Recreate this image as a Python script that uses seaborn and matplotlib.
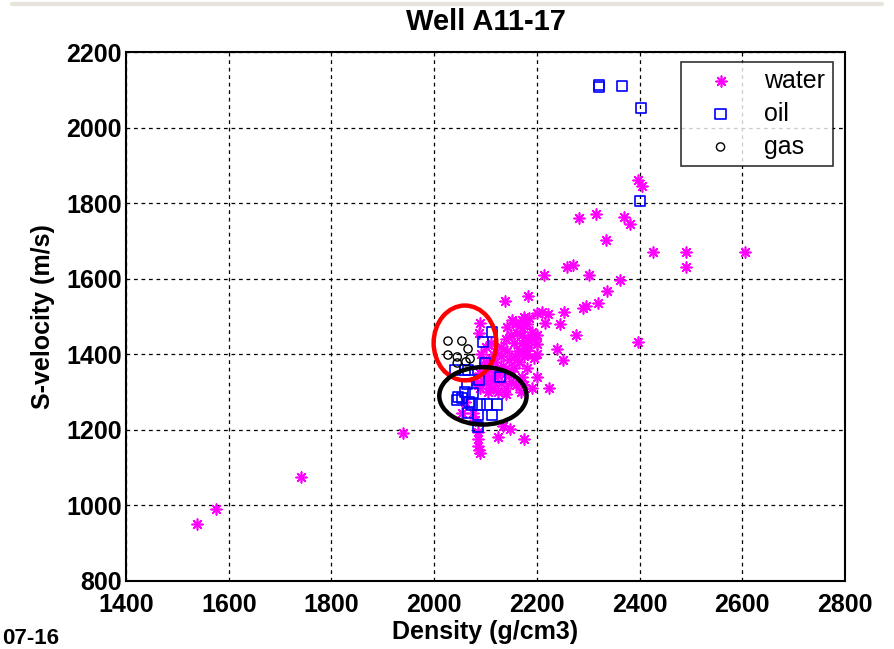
import matplotlib
matplotlib.use("Agg")
import matplotlib.pyplot as plt
import seaborn as sns
import pandas as pd
from matplotlib.patches import Ellipse
from matplotlib.lines import Line2D

# ---------------- data ----------------
water_density = [
    1538, 1575, 1740, 1940,
    2085, 2085, 2085, 2087, 2090, 2124, 2135, 2148, 2175, 2055, 2080,
    2397, 2405, 2282, 2315, 2370, 2381, 2334, 2426, 2490, 2490, 2605, 2397,
    2214, 2259, 2270, 2301, 2362, 2183, 2138, 2336, 2319, 2296, 2290, 2253,
    2210, 2222, 2216, 2245, 2276, 2200, 2200, 2239, 2251, 2224,
    2089, 2087, 2142, 2152, 2171, 2171, 2171, 2171, 2171, 2175, 2161, 2155,
    2142, 2130, 2118, 2105, 2090, 2080, 2115, 2150, 2180, 2172, 2150, 2140,
    2115, 2090, 2060, 2075, 2180, 2185, 2190, 2182, 2195, 2185, 2165, 2155,
    2140, 2125, 2110, 2100, 2130, 2160, 2175, 2200, 2195, 2200, 2180, 2165,
    2158, 2145, 2135, 2120, 2100, 2095, 2085, 2105, 2125, 2140, 2170, 2190,
    2160, 2175, 2200, 2150, 2140, 2130, 2120, 2110, 2100, 2095, 2092, 2100,
    2110,
]
water_vs = [
    950, 990, 1075, 1192,
    1195, 1175, 1158, 1148, 1140, 1180, 1210, 1203, 1175, 1245, 1225,
    1862, 1845, 1760, 1772, 1763, 1745, 1703, 1671, 1671, 1632, 1671, 1433,
    1610, 1630, 1636, 1610, 1597, 1554, 1541, 1568, 1536, 1528, 1523, 1513,
    1513, 1507, 1483, 1480, 1452, 1452, 1426, 1414, 1385, 1311,
    1483, 1456, 1472, 1491, 1491, 1470, 1450, 1430, 1410, 1395, 1456, 1430,
    1410, 1395, 1380, 1365, 1350, 1330, 1330, 1355, 1365, 1340, 1330, 1310,
    1310, 1310, 1275, 1245, 1480, 1495, 1460, 1440, 1440, 1420, 1380, 1365,
    1350, 1345, 1340, 1325, 1325, 1320, 1320, 1340, 1390, 1400, 1400, 1410,
    1395, 1385, 1370, 1360, 1345, 1330, 1320, 1300, 1300, 1295, 1300, 1310,
    1480, 1500, 1510, 1450, 1440, 1420, 1405, 1390, 1380, 1370, 1400, 1420,
    1430,
]

oil_density = [2321, 2321, 2366, 2403, 2401,
               2113, 2095, 2099, 2041, 2066, 2087, 2064, 2128, 2060, 2076,
               2046, 2068, 2054, 2074, 2089, 2103, 2122, 2066, 2085, 2113,
               2085, 2045, 2060]
oil_vs = [2107, 2112, 2110, 2052, 1806,
          1459, 1433, 1377, 1359, 1359, 1332, 1322, 1340, 1300, 1298,
          1287, 1274, 1285, 1267, 1267, 1267, 1267, 1245, 1240, 1240,
          1208, 1279, 1359]

gas_density = [2027, 2054, 2066, 2027, 2045, 2062, 2045, 2070]
gas_vs = [1435, 1435, 1414, 1398, 1393, 1380, 1377, 1388]

x_ticks = [1400, 1600, 1800, 2000, 2200, 2400, 2600, 2800]
y_ticks = [800, 1000, 1200, 1400, 1600, 1800, 2000, 2200]

# annotation ellipses: (center x, center y, width, height, colour)
red_ellipse = (2060, 1430, 122, 198, "red")
black_ellipse = (2095, 1290, 170, 152, "black")

water = pd.DataFrame({"density": water_density, "vs": water_vs})
oil = pd.DataFrame({"density": oil_density, "vs": oil_vs})
gas = pd.DataFrame({"density": gas_density, "vs": gas_vs})

# ---------------- plot ----------------
sns.set_style("white")
plt.rcParams["font.family"] = ["Liberation Sans", "DejaVu Sans"]
for key in ("text.color", "axes.labelcolor", "xtick.color", "ytick.color"):
    plt.rcParams[key] = "black"

fig = plt.figure(figsize=(8.94, 6.49), dpi=100)
ax = fig.add_axes([126 / 894, 1 - 581 / 649, 719 / 894, 529 / 649])

sns.scatterplot(data=water, x="density", y="vs", ax=ax, marker=(8, 2, 0),
                color="#ff00ff", s=60, linewidth=1.2, label="water", zorder=3)
sns.scatterplot(data=oil, x="density", y="vs", ax=ax, marker="s",
                facecolor="none", edgecolor="#0000ff", s=55, linewidth=1.2,
                label="oil", zorder=4)
sns.scatterplot(data=gas, x="density", y="vs", ax=ax, marker="o",
                facecolor="none", edgecolor="black", s=35, linewidth=1.0,
                label="gas", zorder=4)

for cx, cy, w, h, c in (red_ellipse, black_ellipse):
    ax.add_patch(Ellipse((cx, cy), w, h, fill=False, edgecolor=c, lw=3.2, zorder=5))

ax.set_xlim(1400, 2800)
ax.set_ylim(800, 2200)
ax.set_xticks(x_ticks)
ax.set_yticks(y_ticks)
ax.set_xticklabels([str(t) for t in x_ticks], fontsize=18, fontweight="bold")
ax.set_yticklabels([str(t) for t in y_ticks], fontsize=18, fontweight="bold")
ax.tick_params(axis="x", direction="in", length=4, width=1, pad=9)
ax.tick_params(axis="y", direction="in", length=4, width=1, pad=3)
ax.grid(True, color="black", linestyle=(0, (3, 3)), linewidth=0.9)
for sp in ax.spines.values():
    sp.set_color("black")
    sp.set_linewidth(1.5)

ax.set_xlabel("Density (g/cm3)", fontsize=18, fontweight="bold", labelpad=2)
ax.set_ylabel("S-velocity (m/s)", fontsize=18, fontweight="bold", labelpad=8)
ax.set_title("Well A11-17", fontsize=21, fontweight="bold", pad=16)

leg = ax.legend(loc="upper right", bbox_to_anchor=(0.983, 0.982), fontsize=18,
                frameon=True, fancybox=False, edgecolor="black",
                borderpad=0.3, labelspacing=0.35, handlelength=2.6,
                handletextpad=0.45, markerscale=1.0, borderaxespad=0)
leg.get_frame().set_linewidth(1.2)

fig.text(2 / 894, 1 - 639 / 649, "07-16", ha="left", va="center",
         fontsize=16, fontweight="bold")
fig.add_artist(Line2D([12 / 894, 882 / 894], [1 - 4 / 649, 1 - 4 / 649],
                      color="#e6e4da", lw=3, transform=fig.transFigure))

fig.savefig("out.png", dpi=100)
